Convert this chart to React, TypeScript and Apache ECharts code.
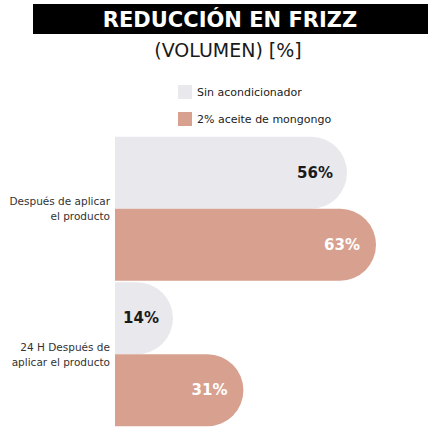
import React, { useEffect, useRef } from "react";
import * as echarts from "echarts";

const categories = ["Después de aplicar\nel producto", "24 H Después de\naplicar el producto"];
const seriesNames = ["Sin acondicionador", "2% aceite de mongongo"];
const sinAcondicionador = [56, 14];
const aceiteMongongo = [63, 31];
const titleText = "REDUCCIÓN EN FRIZZ";
const subtitleText = "(VOLUMEN) [%]";

const FONT = "'DejaVu Sans', 'Open Sans', sans-serif";

export default function App() {
  const ref = useRef<HTMLDivElement>(null);
  useEffect(() => {
    document.body.style.margin = "0";
    const chart = echarts.init(ref.current!, null, { renderer: "svg" });
    chart.setOption({
      animation: false,
      backgroundColor: "#ffffff",
      textStyle: { fontFamily: FONT },
      graphic: [
        { type: "rect", left: 33, top: 4, shape: { width: 395, height: 30 }, style: { fill: "#000000" } },
        {
          type: "text",
          x: 230,
          y: 20,
          style: {
            text: titleText,
            fill: "#ffffff",
            font: `bold 21px ${FONT}`,
            align: "center",
            verticalAlign: "middle",
          },
        },
        {
          type: "text",
          x: 228,
          y: 50,
          style: {
            text: subtitleText,
            fill: "#1a1a1a",
            font: `400 19px ${FONT}`,
            align: "center",
            verticalAlign: "middle",
          },
        },
      ],
      legend: {
        orient: "vertical",
        left: 173,
        top: 80,
        itemWidth: 14,
        itemHeight: 14,
        itemGap: 13,
        icon: "rect",
        textStyle: { fontSize: 11, color: "#222", fontFamily: FONT },
        data: seriesNames,
      },
      grid: { left: 115, right: 32, top: 136, bottom: 10 },
      xAxis: {
        type: "value",
        min: 0,
        max: 70,
        show: false,
      },
      yAxis: {
        type: "category",
        inverse: true,
        data: categories,
        axisLine: { show: false },
        axisTick: { show: false },
        axisLabel: { fontSize: 10.5, color: "#333", margin: 5, lineHeight: 15, fontFamily: FONT },
      },
      series: [
        {
          name: seriesNames[0],
          type: "bar",
          data: sinAcondicionador,
          barWidth: 72,
          barGap: "0%",
          itemStyle: { color: "#e9e8ed", borderRadius: [0, 36, 36, 0] },
          label: {
            show: true,
            position: "insideRight",
            distance: 14,
            formatter: "{c}%",
            fontSize: 15,
            fontWeight: "bold",
            color: "#1a1a1a",
            fontFamily: FONT,
          },
        },
        {
          name: seriesNames[1],
          type: "bar",
          data: aceiteMongongo,
          barWidth: 72,
          barGap: "0%",
          itemStyle: { color: "#d8a08f", borderRadius: [0, 36, 36, 0] },
          label: {
            show: true,
            position: "insideRight",
            distance: 16,
            formatter: "{c}%",
            fontSize: 15,
            fontWeight: "bold",
            color: "#ffffff",
            fontFamily: FONT,
          },
        },
      ],
    });
    return () => chart.dispose();
  }, []);
  return <div ref={ref} style={{ width: 437, height: 437 }} />;
}
